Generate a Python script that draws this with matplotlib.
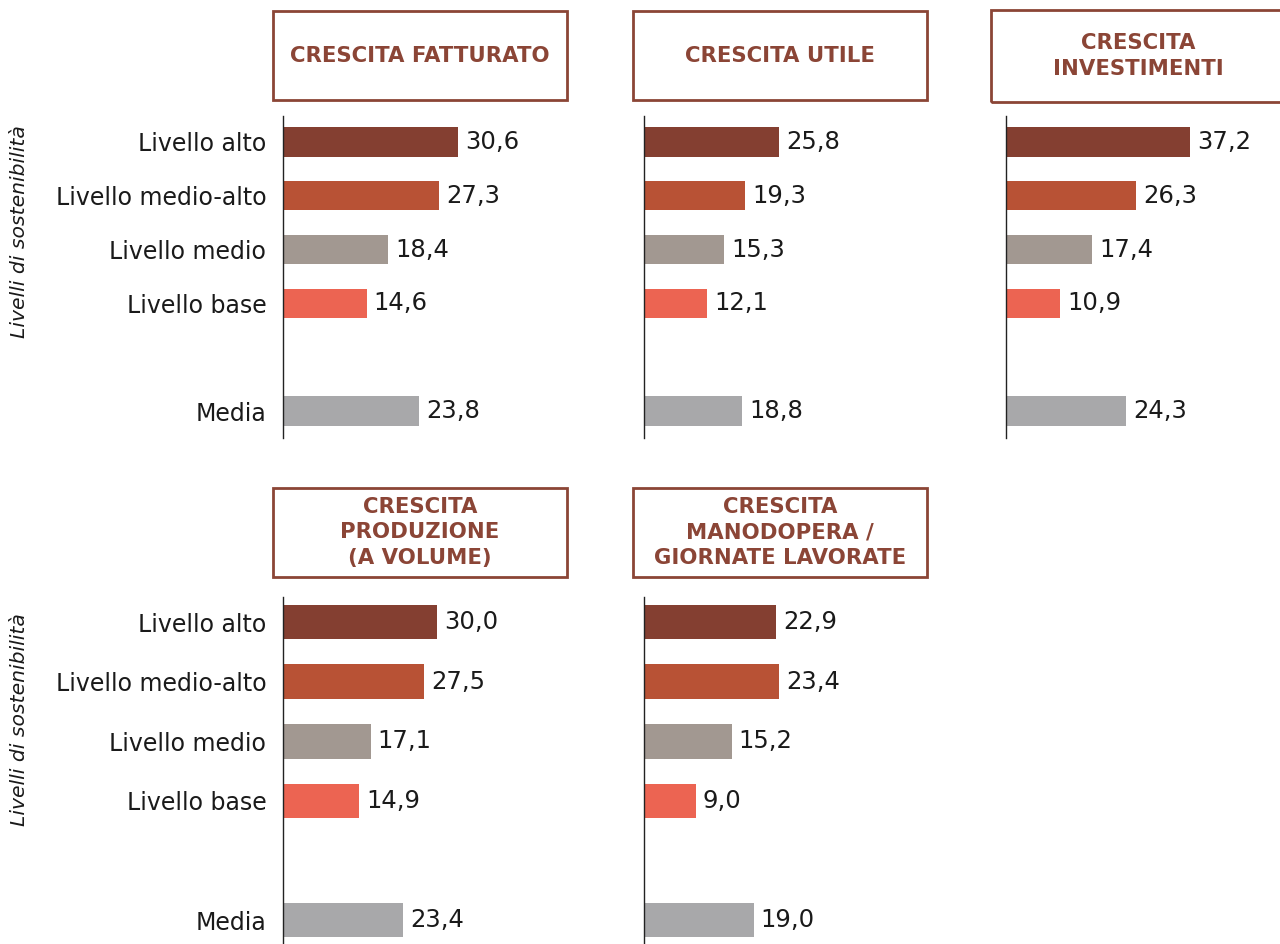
import matplotlib
matplotlib.use('Agg')
import matplotlib.pyplot as plt
from matplotlib.patches import Rectangle

plt.rcParams['font.family'] = ['DejaVu Sans']

# Dati
categories = ["Livello alto", "Livello medio-alto", "Livello medio", "Livello base", "Media"]
fatturato = [30.6, 27.3, 18.4, 14.6, 23.8]
utile = [25.8, 19.3, 15.3, 12.1, 18.8]
investimenti = [37.2, 26.3, 17.4, 10.9, 24.3]
produzione = [30.0, 27.5, 17.1, 14.9, 23.4]
manodopera = [22.9, 23.4, 15.2, 9.0, 19.0]

titles = ["CRESCITA FATTURATO", "CRESCITA UTILE", "CRESCITA\nINVESTIMENTI",
          "CRESCITA\nPRODUZIONE\n(A VOLUME)", "CRESCITA\nMANODOPERA /\nGIORNATE LAVORATE"]
series = [fatturato, utile, investimenti, produzione, manodopera]

bar_colors = ['#843f31', '#b85235', '#a29891', '#ec6452', '#a8a8aa']
box_color = '#8b4536'
positions = [0, 1, 2, 3, 5]

W, H = 1280, 944
fig = plt.figure(figsize=(W / 100, H / 100), dpi=100)


def px_axes(x0, y0, w, h):
    # pixel box (top-left origin) -> figure fraction
    return [x0 / W, 1 - (y0 + h) / H, w / W, h / H]


# (axis x, axis top, axis bottom, px per unit, ylim top, bar height, box x, box y, box w, box h)
panels = [
    (283, 116, 438, 5.72, -0.48, 0.55, 273, 11, 294, 89),
    (644, 116, 438, 5.23, -0.48, 0.55, 633, 11, 294, 89),
    (1006, 116, 438, 4.95, -0.48, 0.55, 991, 10, 294, 92),
    (283, 597, 950, 5.13, -0.42, 0.58, 273, 488, 294, 89),
    (644, 597, 950, 5.77, -0.42, 0.58, 633, 488, 294, 89),
]
ax_w = 270

for i, (vals, title, p) in enumerate(zip(series, titles, panels)):
    x0, yt, yb, scale, ytop, bh, bx, by, bw, bhh = p
    ax = fig.add_axes(px_axes(x0, yt, ax_w, yb - yt))
    ax.barh(positions, vals, height=bh, color=bar_colors)
    ax.set_xlim(0, ax_w / scale)
    ax.set_ylim(5.5, ytop)
    for s in ['top', 'right', 'bottom']:
        ax.spines[s].set_visible(False)
    ax.spines['left'].set_color('#222222')
    ax.spines['left'].set_linewidth(1.0)
    ax.set_xticks([])
    ax.set_yticks(positions)
    if i in (0, 3):
        ax.set_yticklabels(categories, fontsize=17, color='#1a1a1a')
    else:
        ax.set_yticklabels([])
    ax.tick_params(axis='y', length=0, pad=12)
    ax.patch.set_alpha(0)
    for y, v in zip(positions, vals):
        ax.annotate(f"{v:.1f}".replace('.', ','), (v, y), xytext=(5, 0),
                    textcoords='offset points', va='center', ha='left',
                    fontsize=17.5, color='#1a1a1a')

    # riquadro del titolo
    fig.patches.append(Rectangle((bx / W, 1 - (by + bhh) / H), bw / W, bhh / H,
                                 transform=fig.transFigure, fill=False,
                                 edgecolor=box_color, linewidth=2))
    fig.text((bx + bw / 2) / W, 1 - (by + bhh / 2) / H, title, ha='center', va='center',
             fontsize=15.3, fontweight='bold', color=box_color, linespacing=1.35)

for yc in (232, 720):
    fig.text(20 / W, 1 - yc / H, "Livelli di sostenibilità", rotation=90,
             ha='center', va='center', fontsize=14.7, style='italic', color='#1a1a1a')

fig.savefig('out.png', dpi=100)
